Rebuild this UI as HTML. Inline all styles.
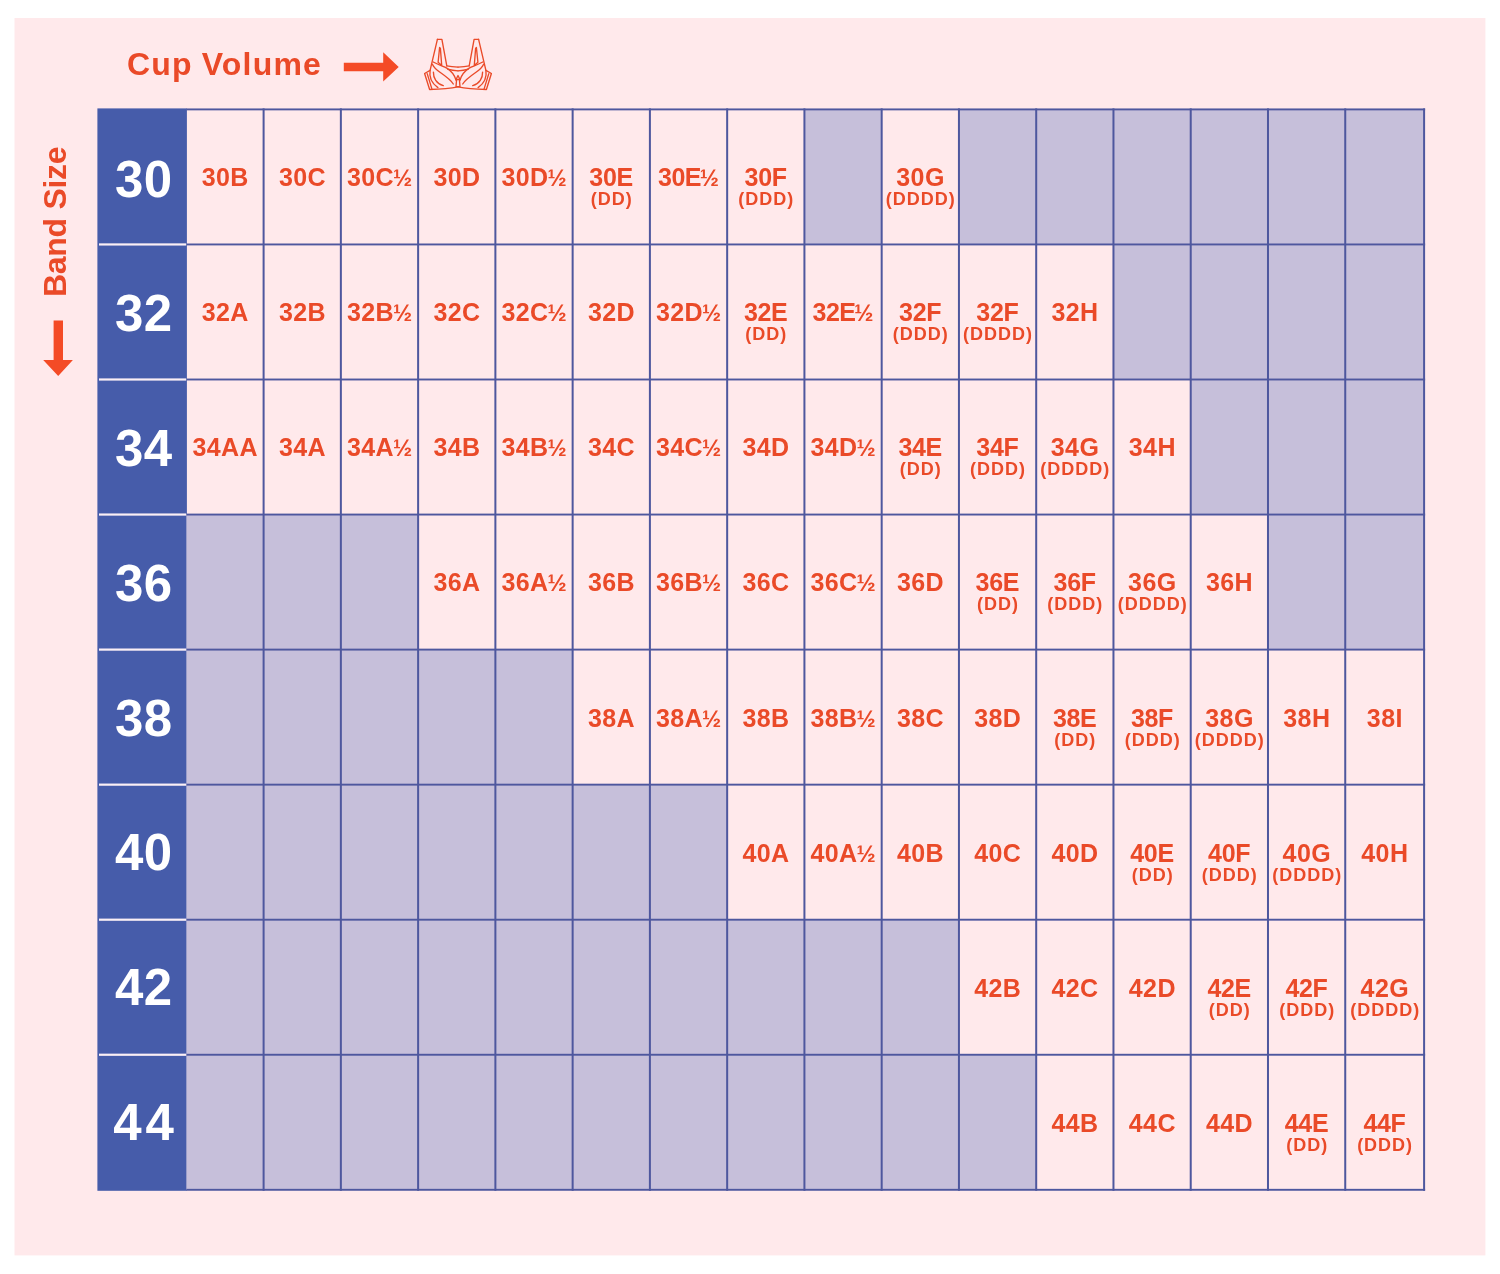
<!DOCTYPE html>
<html lang="en"><head><meta charset="utf-8"><title>Bra Size Chart</title>
<style>
html,body{margin:0;padding:0;background:#fff;}
body{width:1500px;height:1274px;position:relative;overflow:hidden;font-family:"Liberation Sans",sans-serif;font-weight:bold;color:#ea4a28;}
.abs{position:absolute;}
.band{position:absolute;color:#fff;font-size:51px;line-height:1;text-align:center;letter-spacing:0.5px;}
.cell{position:absolute;text-align:center;font-size:25px;line-height:25px;white-space:nowrap;letter-spacing:0.4px;}
.cell b{display:block;font-weight:bold;margin-right:-0.4px;}
.cell b.n{letter-spacing:-0.3px;margin-right:0.3px;}
.cell b.m{letter-spacing:-0.5px;margin-right:0.5px;}
.cell span{font-size:23px;margin-left:-1.2px;}
.cell i{display:block;font-style:normal;font-size:18px;line-height:18px;letter-spacing:1px;margin-top:0.1px;margin-right:-1px;}
#cup{position:absolute;left:127px;top:46px;font-size:32px;line-height:36px;letter-spacing:1.2px;word-spacing:-1.2px;white-space:nowrap;}
#bandsize{position:absolute;left:0;top:0;font-size:32px;line-height:36px;letter-spacing:-0.3px;white-space:nowrap;transform-origin:0 0;transform:translate(37px,297px) rotate(-90deg);}
</style></head><body>
<svg class="abs" style="left:0;top:0" width="1500" height="1274" viewBox="0 0 1500 1274">
<rect x="14.5" y="18" width="1470.9" height="1237.4" fill="#ffe9eb"/>
<rect x="97.4" y="108.40" width="89.50" height="1082.40" fill="#465caa"/>
<rect x="804.42" y="109.40" width="77.26" height="135.05" fill="#c6bfda"/>
<rect x="958.94" y="109.40" width="77.26" height="135.05" fill="#c6bfda"/>
<rect x="1036.20" y="109.40" width="77.26" height="135.05" fill="#c6bfda"/>
<rect x="1113.46" y="109.40" width="77.26" height="135.05" fill="#c6bfda"/>
<rect x="1190.72" y="109.40" width="77.26" height="135.05" fill="#c6bfda"/>
<rect x="1267.98" y="109.40" width="77.26" height="135.05" fill="#c6bfda"/>
<rect x="1345.24" y="109.40" width="78.86" height="135.05" fill="#c6bfda"/>
<rect x="1113.46" y="244.45" width="77.26" height="135.05" fill="#c6bfda"/>
<rect x="1190.72" y="244.45" width="77.26" height="135.05" fill="#c6bfda"/>
<rect x="1267.98" y="244.45" width="77.26" height="135.05" fill="#c6bfda"/>
<rect x="1345.24" y="244.45" width="78.86" height="135.05" fill="#c6bfda"/>
<rect x="1190.72" y="379.50" width="77.26" height="135.05" fill="#c6bfda"/>
<rect x="1267.98" y="379.50" width="77.26" height="135.05" fill="#c6bfda"/>
<rect x="1345.24" y="379.50" width="78.86" height="135.05" fill="#c6bfda"/>
<rect x="186.40" y="514.55" width="77.20" height="135.05" fill="#c6bfda"/>
<rect x="263.60" y="514.55" width="77.26" height="135.05" fill="#c6bfda"/>
<rect x="340.86" y="514.55" width="77.26" height="135.05" fill="#c6bfda"/>
<rect x="1267.98" y="514.55" width="77.26" height="135.05" fill="#c6bfda"/>
<rect x="1345.24" y="514.55" width="78.86" height="135.05" fill="#c6bfda"/>
<rect x="186.40" y="649.60" width="77.20" height="135.05" fill="#c6bfda"/>
<rect x="263.60" y="649.60" width="77.26" height="135.05" fill="#c6bfda"/>
<rect x="340.86" y="649.60" width="77.26" height="135.05" fill="#c6bfda"/>
<rect x="418.12" y="649.60" width="77.26" height="135.05" fill="#c6bfda"/>
<rect x="495.38" y="649.60" width="77.26" height="135.05" fill="#c6bfda"/>
<rect x="186.40" y="784.65" width="77.20" height="135.05" fill="#c6bfda"/>
<rect x="263.60" y="784.65" width="77.26" height="135.05" fill="#c6bfda"/>
<rect x="340.86" y="784.65" width="77.26" height="135.05" fill="#c6bfda"/>
<rect x="418.12" y="784.65" width="77.26" height="135.05" fill="#c6bfda"/>
<rect x="495.38" y="784.65" width="77.26" height="135.05" fill="#c6bfda"/>
<rect x="572.64" y="784.65" width="77.26" height="135.05" fill="#c6bfda"/>
<rect x="649.90" y="784.65" width="77.26" height="135.05" fill="#c6bfda"/>
<rect x="186.40" y="919.70" width="77.20" height="135.05" fill="#c6bfda"/>
<rect x="263.60" y="919.70" width="77.26" height="135.05" fill="#c6bfda"/>
<rect x="340.86" y="919.70" width="77.26" height="135.05" fill="#c6bfda"/>
<rect x="418.12" y="919.70" width="77.26" height="135.05" fill="#c6bfda"/>
<rect x="495.38" y="919.70" width="77.26" height="135.05" fill="#c6bfda"/>
<rect x="572.64" y="919.70" width="77.26" height="135.05" fill="#c6bfda"/>
<rect x="649.90" y="919.70" width="77.26" height="135.05" fill="#c6bfda"/>
<rect x="727.16" y="919.70" width="77.26" height="135.05" fill="#c6bfda"/>
<rect x="804.42" y="919.70" width="77.26" height="135.05" fill="#c6bfda"/>
<rect x="881.68" y="919.70" width="77.26" height="135.05" fill="#c6bfda"/>
<rect x="186.40" y="1054.75" width="77.20" height="135.05" fill="#c6bfda"/>
<rect x="263.60" y="1054.75" width="77.26" height="135.05" fill="#c6bfda"/>
<rect x="340.86" y="1054.75" width="77.26" height="135.05" fill="#c6bfda"/>
<rect x="418.12" y="1054.75" width="77.26" height="135.05" fill="#c6bfda"/>
<rect x="495.38" y="1054.75" width="77.26" height="135.05" fill="#c6bfda"/>
<rect x="572.64" y="1054.75" width="77.26" height="135.05" fill="#c6bfda"/>
<rect x="649.90" y="1054.75" width="77.26" height="135.05" fill="#c6bfda"/>
<rect x="727.16" y="1054.75" width="77.26" height="135.05" fill="#c6bfda"/>
<rect x="804.42" y="1054.75" width="77.26" height="135.05" fill="#c6bfda"/>
<rect x="881.68" y="1054.75" width="77.26" height="135.05" fill="#c6bfda"/>
<rect x="958.94" y="1054.75" width="77.26" height="135.05" fill="#c6bfda"/>
<rect x="262.60" y="108.40" width="2" height="1082.40" fill="#4e579e"/>
<rect x="339.86" y="108.40" width="2" height="1082.40" fill="#4e579e"/>
<rect x="417.12" y="108.40" width="2" height="1082.40" fill="#4e579e"/>
<rect x="494.38" y="108.40" width="2" height="1082.40" fill="#4e579e"/>
<rect x="571.64" y="108.40" width="2" height="1082.40" fill="#4e579e"/>
<rect x="648.90" y="108.40" width="2" height="1082.40" fill="#4e579e"/>
<rect x="726.16" y="108.40" width="2" height="1082.40" fill="#4e579e"/>
<rect x="803.42" y="108.40" width="2" height="1082.40" fill="#4e579e"/>
<rect x="880.68" y="108.40" width="2" height="1082.40" fill="#4e579e"/>
<rect x="957.94" y="108.40" width="2" height="1082.40" fill="#4e579e"/>
<rect x="1035.20" y="108.40" width="2" height="1082.40" fill="#4e579e"/>
<rect x="1112.46" y="108.40" width="2" height="1082.40" fill="#4e579e"/>
<rect x="1189.72" y="108.40" width="2" height="1082.40" fill="#4e579e"/>
<rect x="1266.98" y="108.40" width="2" height="1082.40" fill="#4e579e"/>
<rect x="1344.24" y="108.40" width="2" height="1082.40" fill="#4e579e"/>
<rect x="1423.10" y="108.40" width="2" height="1082.40" fill="#4e579e"/>
<rect x="186.40" y="108.45" width="1238.70" height="1.9" fill="#4e579e"/>
<rect x="186.40" y="243.50" width="1238.70" height="1.9" fill="#4e579e"/>
<rect x="99.00" y="243.35" width="87.20" height="2.2" fill="#fbeff5"/>
<rect x="186.40" y="378.55" width="1238.70" height="1.9" fill="#4e579e"/>
<rect x="99.00" y="378.40" width="87.20" height="2.2" fill="#fbeff5"/>
<rect x="186.40" y="513.60" width="1238.70" height="1.9" fill="#4e579e"/>
<rect x="99.00" y="513.45" width="87.20" height="2.2" fill="#fbeff5"/>
<rect x="186.40" y="648.65" width="1238.70" height="1.9" fill="#4e579e"/>
<rect x="99.00" y="648.50" width="87.20" height="2.2" fill="#fbeff5"/>
<rect x="186.40" y="783.70" width="1238.70" height="1.9" fill="#4e579e"/>
<rect x="99.00" y="783.55" width="87.20" height="2.2" fill="#fbeff5"/>
<rect x="186.40" y="918.75" width="1238.70" height="1.9" fill="#4e579e"/>
<rect x="99.00" y="918.60" width="87.20" height="2.2" fill="#fbeff5"/>
<rect x="186.40" y="1053.80" width="1238.70" height="1.9" fill="#4e579e"/>
<rect x="99.00" y="1053.65" width="87.20" height="2.2" fill="#fbeff5"/>
<rect x="186.40" y="1188.85" width="1238.70" height="1.9" fill="#4e579e"/>
</svg>
<div id="cup">Cup Volume</div>
<div id="bandsize">Band Size</div>

<svg class="abs" style="left:0;top:0" width="1500" height="120" viewBox="0 0 1500 120">
<path d="M343.8 62.7 H383.2 V52.3 L398.7 66.9 L383.2 81.5 V71.2 H343.8 Z" fill="#f44b26"/>
<g fill="none" stroke="#ea4a28" stroke-width="1.35" stroke-linejoin="round" stroke-linecap="round">
<g>
<path d="M437.4 39.3 L441.9 39.3 L446.8 65.9"/>
<path d="M437.4 39.3 L430.1 70.3 C429.2 75.5 430.2 82 437.9 87.6"/>
<path d="M430.1 70.3 L424.6 73.5 L429.6 89.5 C440 89.3 450 88.6 458 86.9"/>
<path d="M427.2 73.6 L431.8 88.6"/>
<path d="M439.6 47.5 L438.1 62.3 L441.7 65.4 L440.4 48.4 Z"/>
<path d="M433.2 62 C439 65 444 66.5 446.8 68.1 C451 70.8 454.5 75 455.9 79.8"/>
<path d="M432.4 64.3 C433.5 67 436 69.5 440 72.3 C446 76.5 451 80 453.3 84"/>
<path d="M433.4 72.1 C433.2 78 436.5 83.8 443.3 85.6"/>
<path d="M447.7 69.2 C451 70.2 455 70.7 458 70.8"/>
<path d="M446.8 65.9 C450 66.6 454 67 458 67.1"/>
</g>
<g transform="translate(916,0) scale(-1,1)">
<path d="M437.4 39.3 L441.9 39.3 L446.8 65.9"/>
<path d="M437.4 39.3 L430.1 70.3 C429.2 75.5 430.2 82 437.9 87.6"/>
<path d="M430.1 70.3 L424.6 73.5 L429.6 89.5 C440 89.3 450 88.6 458 86.9"/>
<path d="M427.2 73.6 L431.8 88.6"/>
<path d="M439.6 47.5 L438.1 62.3 L441.7 65.4 L440.4 48.4 Z"/>
<path d="M433.2 62 C439 65 444 66.5 446.8 68.1 C451 70.8 454.5 75 455.9 79.8"/>
<path d="M432.4 64.3 C433.5 67 436 69.5 440 72.3 C446 76.5 451 80 453.3 84"/>
<path d="M433.4 72.1 C433.2 78 436.5 83.8 443.3 85.6"/>
<path d="M447.7 69.2 C451 70.2 455 70.7 458 70.8"/>
<path d="M446.8 65.9 C450 66.6 454 67 458 67.1"/>
</g>
<path d="M456.6 79.5 L459.4 79.5 L460 86.6 L456 86.6 Z"/>
<path d="M455.9 79.8 L458 75.5 L460.1 79.8"/>
</g>
</svg>
<svg class="abs" style="left:0;top:300px" width="120" height="100" viewBox="0 300 120 100">
<path d="M53.6 320.6 H63 V360 H72.9 L58.2 376 L43.2 360 H53.6 Z" fill="#f44b26"/>
</svg>

<div class="band" style="top:153.7px;height:51px;line-height:51px;letter-spacing:0.5px;padding-left:0.5px;left:99.0px;width:88.5px">30</div>
<div class="cell" style="left:186.4px;top:164.8px;width:77.2px"><b>30B</b></div>
<div class="cell" style="left:263.6px;top:164.8px;width:77.3px"><b>30C</b></div>
<div class="cell" style="left:340.9px;top:164.8px;width:77.3px"><b>30C<span>½</span></b></div>
<div class="cell" style="left:418.1px;top:164.8px;width:77.3px"><b>30D</b></div>
<div class="cell" style="left:495.4px;top:164.8px;width:77.3px"><b>30D<span>½</span></b></div>
<div class="cell" style="left:572.6px;top:164.8px;width:77.3px"><b class="n">30E</b><i>(DD)</i></div>
<div class="cell" style="left:649.9px;top:164.8px;width:77.3px"><b class="m">30E<span>½</span></b></div>
<div class="cell" style="left:727.2px;top:164.8px;width:77.3px"><b class="n">30F</b><i>(DDD)</i></div>
<div class="cell" style="left:881.7px;top:164.8px;width:77.3px"><b>30G</b><i>(DDDD)</i></div>
<div class="band" style="top:288.4px;height:51px;line-height:51px;letter-spacing:0.5px;padding-left:0.5px;left:99.0px;width:88.5px">32</div>
<div class="cell" style="left:186.4px;top:300.0px;width:77.2px"><b>32A</b></div>
<div class="cell" style="left:263.6px;top:300.0px;width:77.3px"><b>32B</b></div>
<div class="cell" style="left:340.9px;top:300.0px;width:77.3px"><b>32B<span>½</span></b></div>
<div class="cell" style="left:418.1px;top:300.0px;width:77.3px"><b>32C</b></div>
<div class="cell" style="left:495.4px;top:300.0px;width:77.3px"><b>32C<span>½</span></b></div>
<div class="cell" style="left:572.6px;top:300.0px;width:77.3px"><b>32D</b></div>
<div class="cell" style="left:649.9px;top:300.0px;width:77.3px"><b>32D<span>½</span></b></div>
<div class="cell" style="left:727.2px;top:300.0px;width:77.3px"><b class="n">32E</b><i>(DD)</i></div>
<div class="cell" style="left:804.4px;top:300.0px;width:77.3px"><b class="m">32E<span>½</span></b></div>
<div class="cell" style="left:881.7px;top:300.0px;width:77.3px"><b class="n">32F</b><i>(DDD)</i></div>
<div class="cell" style="left:958.9px;top:300.0px;width:77.3px"><b class="n">32F</b><i>(DDDD)</i></div>
<div class="cell" style="left:1036.2px;top:300.0px;width:77.3px"><b>32H</b></div>
<div class="band" style="top:423.1px;height:51px;line-height:51px;letter-spacing:0.5px;padding-left:0.5px;left:99.0px;width:88.5px">34</div>
<div class="cell" style="left:186.4px;top:435.1px;width:77.2px"><b>34AA</b></div>
<div class="cell" style="left:263.6px;top:435.1px;width:77.3px"><b>34A</b></div>
<div class="cell" style="left:340.9px;top:435.1px;width:77.3px"><b>34A<span>½</span></b></div>
<div class="cell" style="left:418.1px;top:435.1px;width:77.3px"><b>34B</b></div>
<div class="cell" style="left:495.4px;top:435.1px;width:77.3px"><b>34B<span>½</span></b></div>
<div class="cell" style="left:572.6px;top:435.1px;width:77.3px"><b>34C</b></div>
<div class="cell" style="left:649.9px;top:435.1px;width:77.3px"><b>34C<span>½</span></b></div>
<div class="cell" style="left:727.2px;top:435.1px;width:77.3px"><b>34D</b></div>
<div class="cell" style="left:804.4px;top:435.1px;width:77.3px"><b>34D<span>½</span></b></div>
<div class="cell" style="left:881.7px;top:435.1px;width:77.3px"><b class="n">34E</b><i>(DD)</i></div>
<div class="cell" style="left:958.9px;top:435.1px;width:77.3px"><b class="n">34F</b><i>(DDD)</i></div>
<div class="cell" style="left:1036.2px;top:435.1px;width:77.3px"><b>34G</b><i>(DDDD)</i></div>
<div class="cell" style="left:1113.5px;top:435.1px;width:77.3px"><b>34H</b></div>
<div class="band" style="top:557.8px;height:51px;line-height:51px;letter-spacing:0.5px;padding-left:0.5px;left:99.0px;width:88.5px">36</div>
<div class="cell" style="left:418.1px;top:570.3px;width:77.3px"><b>36A</b></div>
<div class="cell" style="left:495.4px;top:570.3px;width:77.3px"><b>36A<span>½</span></b></div>
<div class="cell" style="left:572.6px;top:570.3px;width:77.3px"><b>36B</b></div>
<div class="cell" style="left:649.9px;top:570.3px;width:77.3px"><b>36B<span>½</span></b></div>
<div class="cell" style="left:727.2px;top:570.3px;width:77.3px"><b>36C</b></div>
<div class="cell" style="left:804.4px;top:570.3px;width:77.3px"><b>36C<span>½</span></b></div>
<div class="cell" style="left:881.7px;top:570.3px;width:77.3px"><b>36D</b></div>
<div class="cell" style="left:958.9px;top:570.3px;width:77.3px"><b class="n">36E</b><i>(DD)</i></div>
<div class="cell" style="left:1036.2px;top:570.3px;width:77.3px"><b class="n">36F</b><i>(DDD)</i></div>
<div class="cell" style="left:1113.5px;top:570.3px;width:77.3px"><b>36G</b><i>(DDDD)</i></div>
<div class="cell" style="left:1190.7px;top:570.3px;width:77.3px"><b>36H</b></div>
<div class="band" style="top:692.5px;height:51px;line-height:51px;letter-spacing:0.5px;padding-left:0.5px;left:99.0px;width:88.5px">38</div>
<div class="cell" style="left:572.6px;top:705.5px;width:77.3px"><b>38A</b></div>
<div class="cell" style="left:649.9px;top:705.5px;width:77.3px"><b>38A<span>½</span></b></div>
<div class="cell" style="left:727.2px;top:705.5px;width:77.3px"><b>38B</b></div>
<div class="cell" style="left:804.4px;top:705.5px;width:77.3px"><b>38B<span>½</span></b></div>
<div class="cell" style="left:881.7px;top:705.5px;width:77.3px"><b>38C</b></div>
<div class="cell" style="left:958.9px;top:705.5px;width:77.3px"><b>38D</b></div>
<div class="cell" style="left:1036.2px;top:705.5px;width:77.3px"><b class="n">38E</b><i>(DD)</i></div>
<div class="cell" style="left:1113.5px;top:705.5px;width:77.3px"><b class="n">38F</b><i>(DDD)</i></div>
<div class="cell" style="left:1190.7px;top:705.5px;width:77.3px"><b>38G</b><i>(DDDD)</i></div>
<div class="cell" style="left:1268.0px;top:705.5px;width:77.3px"><b>38H</b></div>
<div class="cell" style="left:1345.2px;top:705.5px;width:78.9px"><b>38I</b></div>
<div class="band" style="top:827.2px;height:51px;line-height:51px;letter-spacing:0.5px;padding-left:0.5px;left:99.0px;width:88.5px">40</div>
<div class="cell" style="left:727.2px;top:840.6px;width:77.3px"><b>40A</b></div>
<div class="cell" style="left:804.4px;top:840.6px;width:77.3px"><b>40A<span>½</span></b></div>
<div class="cell" style="left:881.7px;top:840.6px;width:77.3px"><b>40B</b></div>
<div class="cell" style="left:958.9px;top:840.6px;width:77.3px"><b>40C</b></div>
<div class="cell" style="left:1036.2px;top:840.6px;width:77.3px"><b>40D</b></div>
<div class="cell" style="left:1113.5px;top:840.6px;width:77.3px"><b class="n">40E</b><i>(DD)</i></div>
<div class="cell" style="left:1190.7px;top:840.6px;width:77.3px"><b class="n">40F</b><i>(DDD)</i></div>
<div class="cell" style="left:1268.0px;top:840.6px;width:77.3px"><b>40G</b><i>(DDDD)</i></div>
<div class="cell" style="left:1345.2px;top:840.6px;width:78.9px"><b>40H</b></div>
<div class="band" style="top:961.9px;height:51px;line-height:51px;letter-spacing:0.5px;padding-left:0.5px;left:99.0px;width:88.5px">42</div>
<div class="cell" style="left:958.9px;top:975.8px;width:77.3px"><b>42B</b></div>
<div class="cell" style="left:1036.2px;top:975.8px;width:77.3px"><b>42C</b></div>
<div class="cell" style="left:1113.5px;top:975.8px;width:77.3px"><b>42D</b></div>
<div class="cell" style="left:1190.7px;top:975.8px;width:77.3px"><b class="n">42E</b><i>(DD)</i></div>
<div class="cell" style="left:1268.0px;top:975.8px;width:77.3px"><b class="n">42F</b><i>(DDD)</i></div>
<div class="cell" style="left:1345.2px;top:975.8px;width:78.9px"><b>42G</b><i>(DDDD)</i></div>
<div class="band" style="top:1096.6px;height:51px;line-height:51px;letter-spacing:4.0px;padding-left:4.0px;left:99.0px;width:85.0px">44</div>
<div class="cell" style="left:1036.2px;top:1111.0px;width:77.3px"><b>44B</b></div>
<div class="cell" style="left:1113.5px;top:1111.0px;width:77.3px"><b>44C</b></div>
<div class="cell" style="left:1190.7px;top:1111.0px;width:77.3px"><b>44D</b></div>
<div class="cell" style="left:1268.0px;top:1111.0px;width:77.3px"><b class="n">44E</b><i>(DD)</i></div>
<div class="cell" style="left:1345.2px;top:1111.0px;width:78.9px"><b class="n">44F</b><i>(DDD)</i></div>
</body></html>
